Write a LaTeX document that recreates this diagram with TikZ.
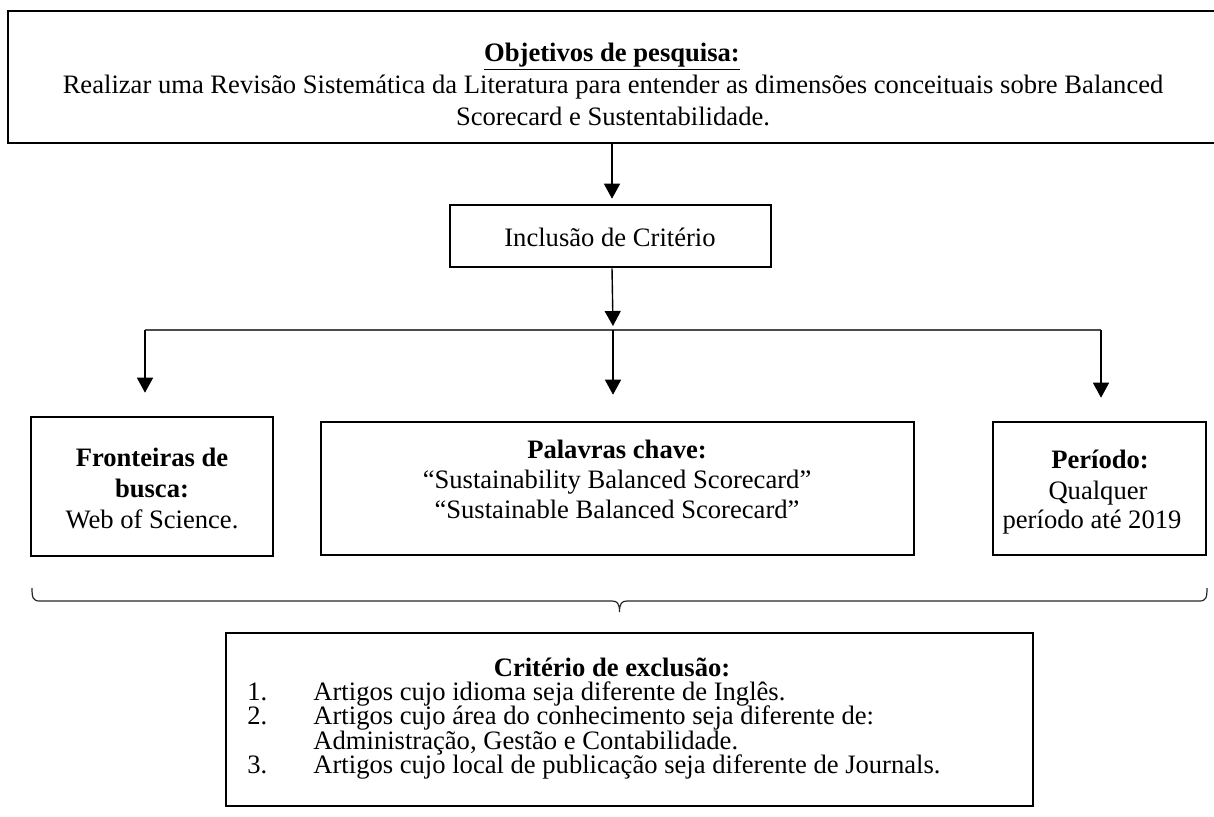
\documentclass[tikz,border=0pt]{standalone}
\usepackage{fontspec}
\setmainfont{Liberation Serif}
\usetikzlibrary{arrows.meta}
\begin{document}
\begin{tikzpicture}[x=0.5pt,y=-0.5pt,
  font=\fontsize{13.3}{16}\selectfont,
  box/.style={draw, line width=1.3pt, inner sep=0pt},
  txt/.style={inner sep=0pt, anchor=base},
  ltxt/.style={inner sep=0pt, anchor=base west},
  conn/.style={line width=0.7pt, -{Triangle[width=8pt,length=7.5pt]}},
  branch/.style={line width=0.8pt, draw=black!70},
  bracestyle/.style={line width=0.6pt, draw=black!85}]
\useasboundingbox (0,0) rectangle (1214,816);

% boxes
\node[box, minimum width=607pt, minimum height=66pt] (obj) at (615,77) {};
\node[box, minimum width=160.5pt, minimum height=31pt] (inc) at (610.5,236) {};
\node[box, minimum width=121pt, minimum height=69.5pt] (fro) at (152,486.5) {};
\node[box, minimum width=296.5pt, minimum height=66.5pt] (pal) at (617.5,488.5) {};
\node[box, minimum width=106.5pt, minimum height=66.5pt] (per) at (1099.5,488.5) {};
\node[box, minimum width=403.5pt, minimum height=86.5pt] (exc) at (629.5,719.5) {};

% texts
\node[txt] (objt) at (612,61) {\bfseries\underline{Objetivos de pesquisa:}};
\node[txt] (obj1) at (613,93) {Realizar uma Revisão Sistemática da Literatura para entender as dimensões conceituais sobre Balanced};
\node[txt] (obj2) at (613,125) {Scorecard e Sustentabilidade.};

\node[txt] (inct) at (610,246) {Inclusão de Critério};

\node[txt] (fro1) at (152,466) {\bfseries Fronteiras de};
\node[txt] (fro2) at (152,497) {\bfseries busca:};
\node[txt] (fro3) at (152,528) {Web of Science.};

\node[txt] (pal1) at (617,458) {\bfseries Palavras chave:};
\node[txt] (pal2) at (617,488) {“Sustainability Balanced Scorecard”};
\node[txt] (pal3) at (617,518) {“Sustainable Balanced Scorecard”};

\node[txt] (per1) at (1100,468) {\bfseries Período:};
\node[txt] (per2) at (1098,499) {Qualquer};
\node[txt] (per3) at (1092,528) {período até 2019};

\node[txt] (exct) at (612,676) {\bfseries Critério de exclusão:};
\node[ltxt] (n1) at (247,700) {1.};
\node[ltxt] (e1) at (313,700) {Artigos cujo idioma seja diferente de Inglês.};
\node[ltxt] (n2) at (247,724.5) {2.};
\node[ltxt] (e2) at (313,724.5) {Artigos cujo área do conhecimento seja diferente de:};
\node[ltxt] (e2b) at (313,749) {Administração, Gestão e Contabilidade.};
\node[ltxt] (n3) at (247,773.5) {3.};
\node[ltxt] (e3) at (313,773.5) {Artigos cujo local de publicação seja diferente de Journals.};

% connectors
\coordinate (bl) at (145,330);
\coordinate (bm) at (613,330);
\coordinate (br) at (1101,330);
\draw[conn] (obj.south -| 612,0) -- ([yshift=2.5pt]inc.north -| 612,0);
\draw[conn] (inc.south -| 612,0) -- ([yshift=2pt]bm);
\draw[branch] (bl) -- (br);
\draw[conn] (bl) -- ([yshift=11.5pt]fro.north -| bl);
\draw[conn] (bm) -- ([yshift=13pt]pal.north -| bm);
\draw[conn] (br) -- ([yshift=11.5pt]per.north -| br);

% brace
\coordinate (bra) at (32,588);
\coordinate (brb) at (1207,588);
\coordinate (brt) at (619.5,612);
\draw[bracestyle] (bra) .. controls (32,598) and (33,601) .. (40,601) -- (612,601)
  .. controls (617,601) and (619.5,603) .. (brt)
  .. controls (619.5,603) and (622,601) .. (627,601) -- (1199,601)
  .. controls (1206,601) and (1207,598) .. (brb);
\end{tikzpicture}
\end{document}
